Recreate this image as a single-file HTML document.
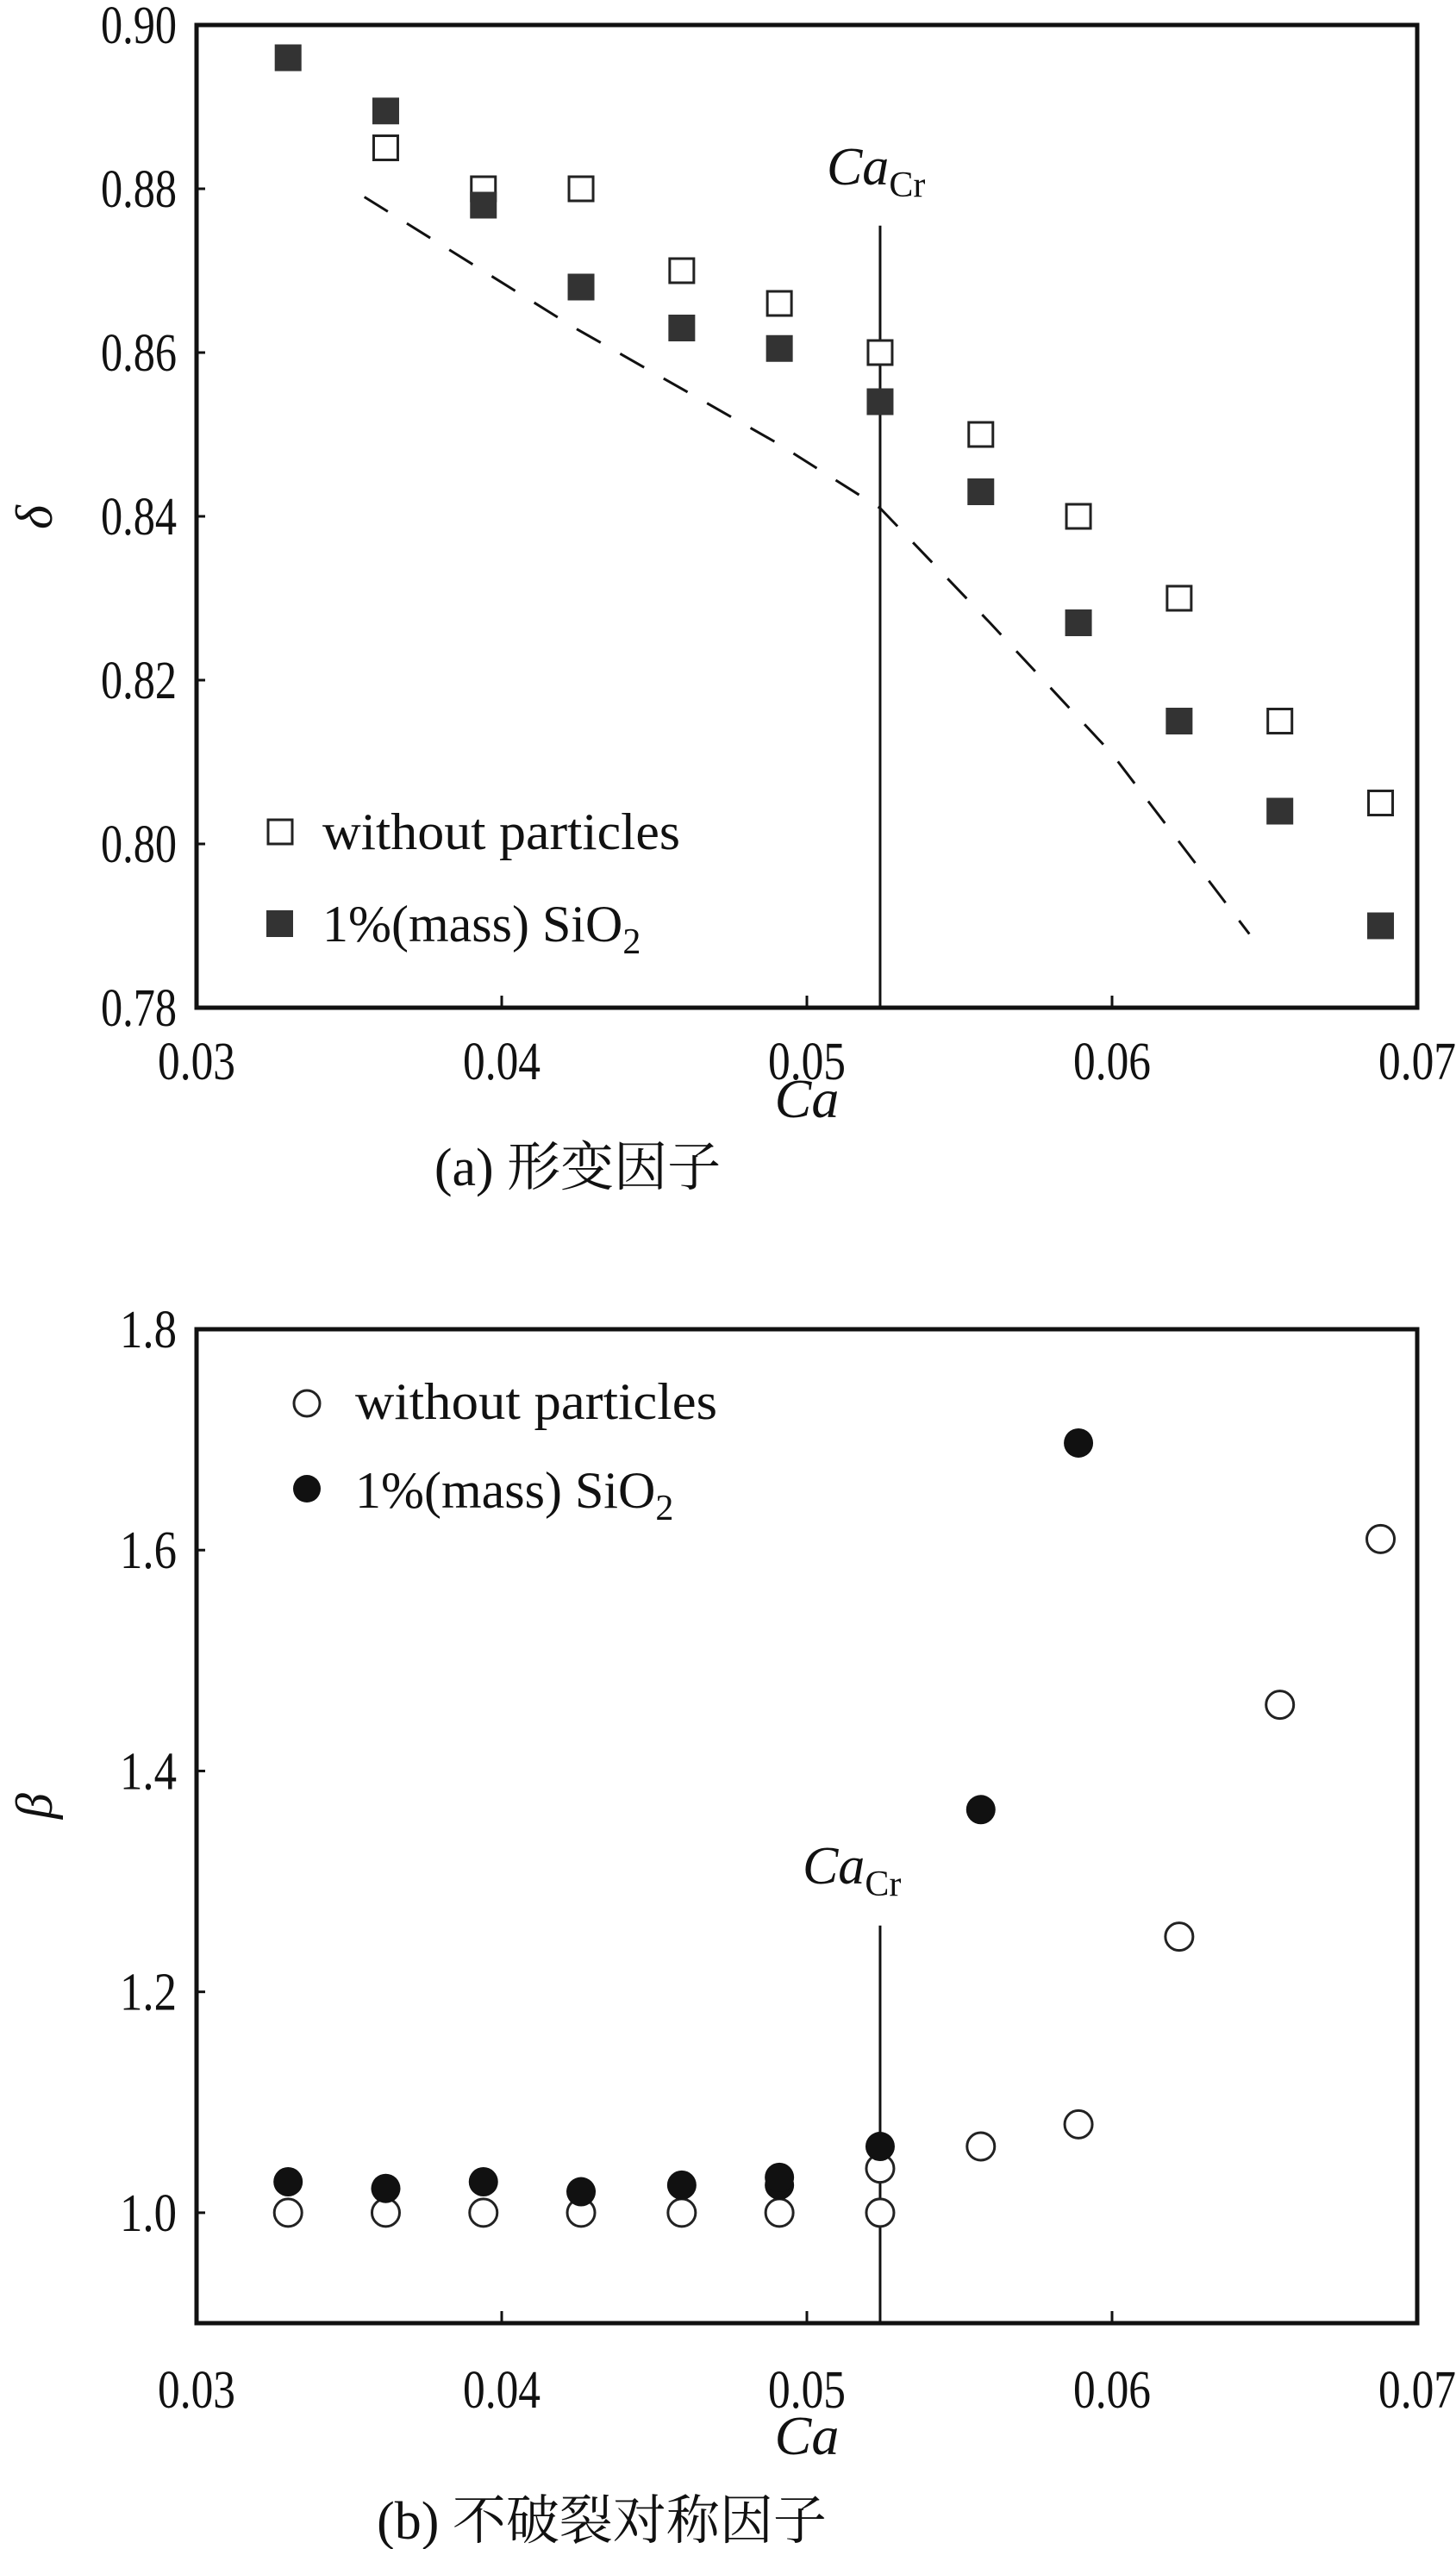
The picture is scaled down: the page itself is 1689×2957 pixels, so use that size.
<!DOCTYPE html>
<html><head><meta charset="utf-8"><style>
html,body{margin:0;padding:0;background:#fff}
svg{display:block}
text{font-family:"Liberation Serif","Noto Serif CJK SC","Noto Sans CJK SC",serif;fill:#111}
</style></head><body>
<svg id="chart" width="1689" height="2957" viewBox="0 0 1689 2957" xmlns="http://www.w3.org/2000/svg"></svg>
<script>
const caValues=[0.033,0.0362,0.0394,0.0426,0.0459,0.0491,0.0524,0.0557,0.0589,0.0622,0.0655,0.0688];
const deltaOpen=[null,0.885,0.880,0.880,0.870,0.866,0.860,0.850,0.840,0.830,0.815,0.805];
const deltaFilled=[0.896,0.8895,0.878,0.868,0.863,0.8605,0.854,0.843,0.827,0.815,0.804,0.790];
const dashX=[0.0355,0.0424,0.0490,0.0524,0.0560,0.0600,0.0645];
const dashY=[0.879,0.863,0.849,0.841,0.827,0.811,0.789];
const betaOpenX=[0.033,0.0362,0.0394,0.0426,0.0459,0.0491,0.0524,0.0524,0.0557,0.0589,0.0622,0.0655,0.0688];
const betaOpen=[1.0,1.0,1.0,1.0,1.0,1.0,1.0,1.04,1.06,1.08,1.25,1.46,1.61];
const betaFilledX=[0.033,0.0362,0.0394,0.0426,0.0459,0.0491,0.0491,0.0524,0.0557,0.0589];
const betaFilled=[1.028,1.022,1.028,1.019,1.025,1.025,1.032,1.06,1.365,1.697];
const xTicks=[0.03,0.04,0.05,0.06,0.07];
const xTickLabels=["0.03","0.04","0.05","0.06","0.07"];
const yTicksA=[0.78,0.80,0.82,0.84,0.86,0.88,0.90];
const yTickLabelsA=["0.78","0.80","0.82","0.84","0.86","0.88","0.90"];
const yTicksB=[1.0,1.2,1.4,1.6,1.8];
const yTickLabelsB=["1.0","1.2","1.4","1.6","1.8"];
const caCr=0.0524;

const NS="http://www.w3.org/2000/svg";
const svg=document.getElementById('chart');
function mk(tag,attrs,parent,txt){const e=document.createElementNS(NS,tag);for(const k in attrs)e.setAttribute(k,attrs[k]);if(txt!==undefined)e.textContent=txt;(parent||svg).appendChild(e);return e;}

const L=228,R=1644;
const xs=v=>L+(v-0.03)/(0.04)*(R-L);
const ysA=v=>29+(0.90-v)/0.12*(1169-29);
const ysB=v=>1542+(1.8-v)/0.9*(2695-1542);
const FS=62;

function panel(name,top,bot,ys,yt,ytl,xLabY,caY){
  const g=mk('g',{});
  
  
  const fr=mk('rect',{x:L,y:top,width:R-L,height:bot-top,fill:'none',stroke:'#111','stroke-width':5},g);
  
  
  xTicks.forEach((t,i)=>{
    const x=xs(t);
    const tk=mk('line',{x1:x,x2:x,y1:bot,y2:bot-14,stroke:'#111','stroke-width':3},g);
    
    
    const tl=mk('text',{x:x,y:xLabY,'font-size':FS,'text-anchor':'middle',textLength:90,lengthAdjust:'spacingAndGlyphs'},g,xTickLabels[i]);
    
    
  });
  yt.forEach((t,i)=>{
    const y=ys(t);
    const tk=mk('line',{x1:L,x2:L+10,y1:y,y2:y,stroke:'#111','stroke-width':3},g);
    
    
    const w=ytl[i].length===4?88:66;
    const tl=mk('text',{x:205,y:y+21,'font-size':FS,'text-anchor':'end',textLength:w,lengthAdjust:'spacingAndGlyphs'},g,ytl[i]);
    
    
  });
  const xt=mk('text',{x:(L+R)/2,y:caY,'font-size':64,'font-style':'italic','text-anchor':'middle'},g,'Ca');
  
  
  return g;
}

// Panel A
const gA=panel('panel-a-deformation',29,1169,ysA,yTicksA,yTickLabelsA,1252,1296);
const yA=mk('text',{x:0,y:0,'font-size':60,'font-style':'italic','text-anchor':'middle',transform:'translate(60,600) rotate(-90)'},gA,'δ');


const capA=mk('text',{x:670,y:1375,'font-size':62,'text-anchor':'middle'},gA,'(a) 形变因子');


const vA=mk('line',{x1:xs(caCr),x2:xs(caCr),y1:ysA(0.8755),y2:1169,stroke:'#111','stroke-width':3},gA);


const lA=mk('text',{x:xs(caCr)-62,y:214,'font-size':62,'font-style':'italic'},gA);


lA.appendChild(document.createTextNode('Ca'));
mk('tspan',{'font-size':42,'font-style':'normal',dy:14},lA,'Cr');
let pts=dashX.map((x,i)=>xs(x)+','+ysA(dashY[i])).join(' ');
const dl=mk('polyline',{points:pts,fill:'none',stroke:'#111','stroke-width':3,'stroke-dasharray':'32 26'},gA);


const S=31;
caValues.forEach((x,i)=>{
  if(deltaOpen[i]!==null){
    const r=mk('rect',{x:xs(x)-S/2+1.5,y:ysA(deltaOpen[i])-S/2+1.5,width:S-3,height:S-3,fill:'#fff',stroke:'#222','stroke-width':3},gA);
    
    
  }
});
caValues.forEach((x,i)=>{
  const r=mk('rect',{x:xs(x)-S/2,y:ysA(deltaFilled[i])-S/2,width:S,height:S,fill:'#333'},gA);
  
  
});
const la1=mk('rect',{x:311,y:951,width:28,height:28,fill:'#fff',stroke:'#222','stroke-width':3},gA);


const lt1=mk('text',{x:374,y:985,'font-size':60,textLength:415,lengthAdjust:'spacingAndGlyphs'},gA,'without particles');


const la2=mk('rect',{x:309,y:1056,width:31,height:31,fill:'#333'},gA);


const lt2=mk('text',{x:374,y:1092,'font-size':60},gA);


lt2.appendChild(document.createTextNode('1%(mass) SiO'));
mk('tspan',{'font-size':42,dy:14},lt2,'2');

// Panel B
const gB=panel('panel-b-symmetry',1542,2695,ysB,yTicksB,yTickLabelsB,2793,2847);
const yB=mk('text',{x:0,y:0,'font-size':60,'font-style':'italic','text-anchor':'middle',transform:'translate(60,2095) rotate(-90)'},gB,'β');


const capB=mk('text',{x:698,y:2945,'font-size':62,'text-anchor':'middle'},gB,'(b) 不破裂对称因子');


const vB=mk('line',{x1:xs(caCr),x2:xs(caCr),y1:ysB(1.26),y2:2695,stroke:'#111','stroke-width':3},gB);


const lB=mk('text',{x:xs(caCr)-90,y:2185,'font-size':62,'font-style':'italic'},gB);


lB.appendChild(document.createTextNode('Ca'));
mk('tspan',{'font-size':42,'font-style':'normal',dy:14},lB,'Cr');
const CR=16;
betaOpenX.forEach((x,i)=>{
  const c=mk('circle',{cx:xs(x),cy:ysB(betaOpen[i]),r:CR,fill:'#fff',stroke:'#222','stroke-width':3},gB);
  
  
});
betaFilledX.forEach((x,i)=>{
  const c=mk('circle',{cx:xs(x),cy:ysB(betaFilled[i]),r:CR+1,fill:'#111'},gB);
  
  
});
const lb1=mk('circle',{cx:356,cy:1628,r:15,fill:'#fff',stroke:'#222','stroke-width':3},gB);


const lbt1=mk('text',{x:412,y:1646,'font-size':60,textLength:420,lengthAdjust:'spacingAndGlyphs'},gB,'without particles');


const lb2=mk('circle',{cx:356,cy:1727,r:16,fill:'#111'},gB);


const lbt2=mk('text',{x:412,y:1749,'font-size':60},gB);


lbt2.appendChild(document.createTextNode('1%(mass) SiO'));
mk('tspan',{'font-size':42,dy:14},lbt2,'2');
</script>
</body></html>
